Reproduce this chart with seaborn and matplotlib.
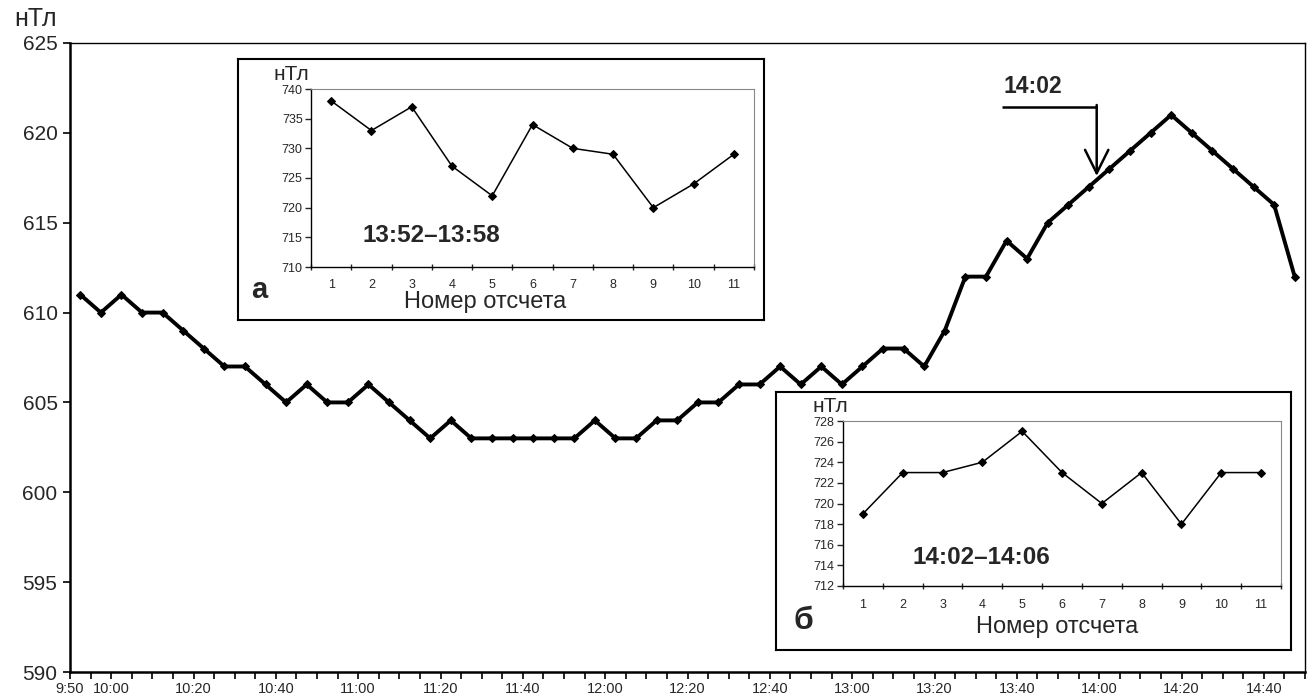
import numpy as np
import pandas as pd
import matplotlib
matplotlib.use("Agg")
import matplotlib.pyplot as plt
import seaborn as sns

# ---------------- data ----------------
main_values = [611, 610, 611, 610, 610, 609, 608, 607, 607, 606,
               605, 606, 605, 605, 606, 605, 604, 603, 604, 603,
               603, 603, 603, 603, 603, 604, 603, 603, 604, 604,
               605, 605, 606, 606, 607, 606, 607, 606, 607, 608,
               608, 607, 609, 612, 612, 614, 613, 615, 616, 617,
               618, 619, 620, 621, 620, 619, 618, 617, 616, 612]
time_tick_labels = ["9:50", "10:00", "10:20", "10:40", "11:00", "11:20", "11:40",
                    "12:00", "12:20", "12:40", "13:00", "13:20", "13:40",
                    "14:00", "14:20", "14:40"]
time_tick_minutes = [0, 10, 30, 50, 70, 90, 110, 130, 150, 170, 190, 210,
                     230, 250, 270, 290]   # minutes after 9:50

sample_no = list(range(1, 12))
inset_a_values = [738, 733, 737, 727, 722, 734, 730, 729, 720, 724, 729]
inset_b_values = [719, 723, 723, 724, 727, 723, 720, 723, 718, 723, 723]

unit = "нТл"
xlabel_inset = "Номер отсчета"
label_a = "13:52\u201313:58"
label_b = "14:02\u201314:06"
arrow_label = "14:02"

# ---------------- style ----------------
sns.set_style("white")
plt.rcParams["font.family"] = ["Liberation Sans", "DejaVu Sans"]

W, H = 1308, 695
fig = plt.figure(figsize=(W / 100, H / 100), dpi=100)
fig.patch.set_facecolor("white")


def px_axes(x0, y0, x1, y1):
    """rectangle in pixel coords (top-left origin) -> figure fraction"""
    return [x0 / W, 1 - y1 / H, (x1 - x0) / W, (y1 - y0) / H]


def ftext(x, y, s, **kw):
    fig.text(x / W, 1 - y / H, s, **kw)


# ---------------- main chart ----------------
ax = fig.add_axes(px_axes(70, 43, 1305, 672))
df = pd.DataFrame({"t": 2.5 + 5 * np.arange(len(main_values)), "v": main_values})
sns.lineplot(data=df, x="t", y="v", ax=ax, color="black", linewidth=2.8,
             marker="D", markersize=4.5, markeredgecolor="black")
ax.set_xlim(0, 300)
ax.set_ylim(590, 625)
ax.set_yticks(np.arange(590, 626, 5))
ax.set_yticklabels([str(v) for v in range(590, 626, 5)], fontsize=15)
xt = np.arange(0, 301, 5)
ax.set_xticks(xt)
lab_map = dict(zip(time_tick_minutes, time_tick_labels))
ax.set_xticklabels([lab_map.get(int(m), "") for m in xt], fontsize=10.5,
                   family=["Liberation Sans Narrow", "Liberation Sans"])
ax.tick_params(axis="both", direction="out", length=5, width=1.2, color="black",
               bottom=True, left=True, pad=2)
ax.tick_params(axis="y", pad=4)
ax.set_xlabel("")
ax.set_ylabel("")
for side, sp in ax.spines.items():
    sp.set_color("black")
    sp.set_linewidth(1.0)
ax.spines["left"].set_linewidth(1.8)
ax.spines["bottom"].set_linewidth(1.8)
ftext(36, 19, unit, fontsize=18, ha="center", va="center")

# arrow 14:02
ax.plot([226.4, 249.4], [621.45, 621.45], color="black", linewidth=1.8,
        solid_capstyle="butt")
ax.annotate("", xy=(249.4, 617.6), xytext=(249.4, 621.55),
            arrowprops=dict(arrowstyle="->", color="black", lw=1.8,
                            mutation_scale=42, shrinkA=0, shrinkB=0))
ax.text(233.8, 622.6, arrow_label, fontsize=16.5, fontweight="bold",
        ha="center", va="center")


# ---------------- insets ----------------
def make_inset(box_px, ax_px, values, ylim, ystep, ytick_fmt):
    box = fig.add_axes(px_axes(*box_px))
    box.set_facecolor("white")
    box.set_xticks([])
    box.set_yticks([])
    for sp in box.spines.values():
        sp.set_color("black")
        sp.set_linewidth(1.5)
    ia = fig.add_axes(px_axes(*ax_px))
    ia.set_facecolor("white")
    d = pd.DataFrame({"n": sample_no, "v": values})
    sns.lineplot(data=d, x="n", y="v", ax=ia, color="black", linewidth=1.1,
                 marker="D", markersize=3.8, markeredgecolor="black")
    ia.set_xlim(0.5, 11.5)
    ia.set_ylim(*ylim)
    ia.set_yticks(np.arange(ylim[0], ylim[1] + 0.1, ystep))
    ia.set_yticklabels([ytick_fmt(v) for v in np.arange(ylim[0], ylim[1] + 0.1, ystep)],
                       fontsize=9)
    ia.set_xticks(sample_no)
    ia.set_xticklabels([str(n) for n in sample_no], fontsize=9)
    ia.set_xticks(np.arange(0.5, 11.6, 1.0), minor=True)
    ia.tick_params(axis="x", which="major", length=0, pad=9)
    ia.tick_params(axis="x", which="minor", length=4, width=1, direction="inout",
                   bottom=True)
    ia.tick_params(axis="y", which="major", length=4, width=1, direction="out",
                   left=True, pad=2)
    ia.set_xlabel("")
    ia.set_ylabel("")
    ia.spines["left"].set_color("black")
    ia.spines["bottom"].set_color("black")
    ia.spines["left"].set_linewidth(1.0)
    ia.spines["bottom"].set_linewidth(1.0)
    for s in ("top", "right"):
        ia.spines[s].set_color("#888888")
        ia.spines[s].set_linewidth(0.8)
        ia.spines[s].set_linestyle((0, (1, 1)))
    return ia


ia_a = make_inset((238, 59, 764, 320), (311, 89, 754, 267), inset_a_values,
                  (710, 740), 5, lambda v: f"{int(v)}")
ftext(291, 75, unit, fontsize=15, ha="center", va="center")
ftext(485, 302, xlabel_inset, fontsize=17, ha="center", va="center")
ftext(431, 235, label_a, fontsize=17.5, fontweight="bold", ha="center", va="center")
ftext(259, 290, "а", fontsize=21, fontweight="bold", ha="center", va="center")

ia_b = make_inset((776, 392, 1291, 650), (843, 421, 1281, 586), inset_b_values,
                  (712, 728), 2, lambda v: f"{int(v)}")
ftext(830, 407, unit, fontsize=15, ha="center", va="center")
ftext(1057, 627, xlabel_inset, fontsize=17, ha="center", va="center")
ftext(981, 558, label_b, fontsize=17.5, fontweight="bold", ha="center", va="center")
ftext(803, 621, "б", fontsize=23, fontweight="bold", ha="center", va="center")

fig.savefig("out.png", dpi=100, facecolor="white")
